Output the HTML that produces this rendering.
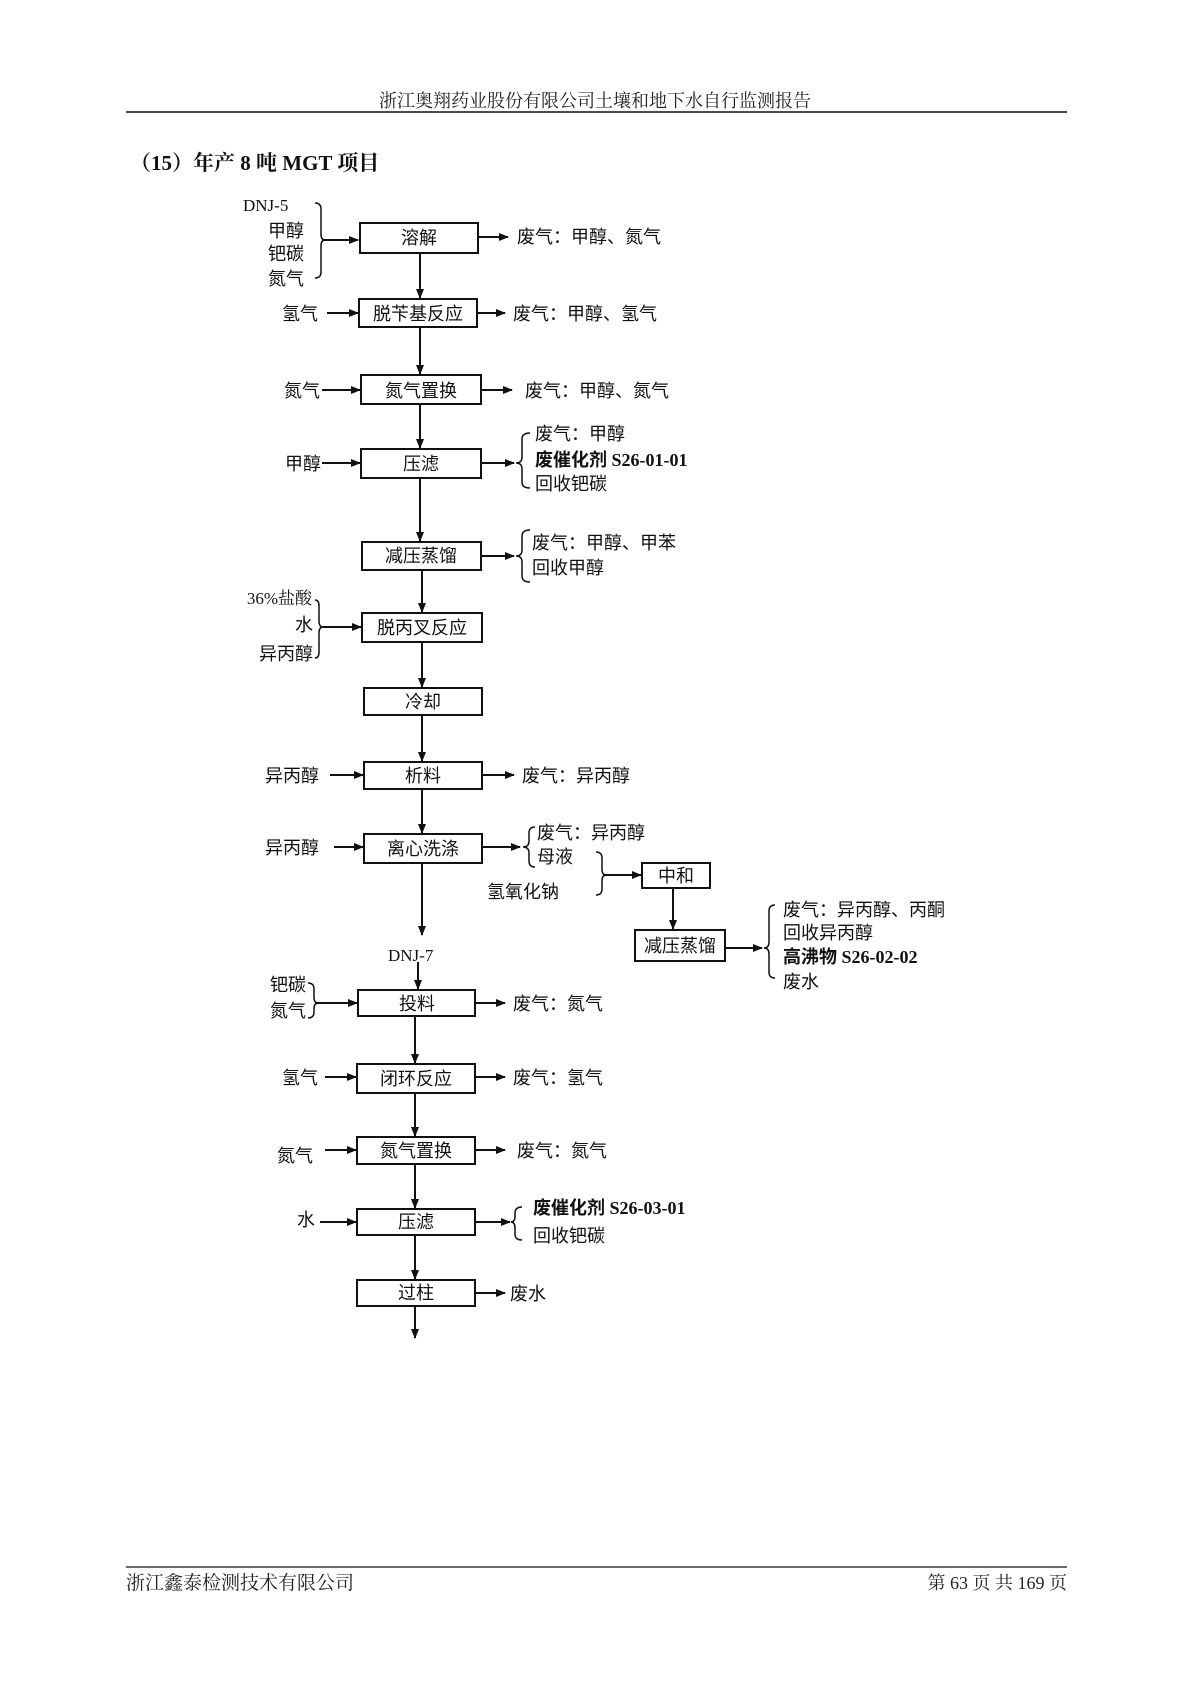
<!DOCTYPE html>
<html><head><meta charset="utf-8"><style>
html,body{margin:0;padding:0;background:#fff;}
body{width:1199px;height:1696px;position:relative;overflow:hidden;}
svg{position:absolute;left:0;top:0;}
.s{font-family:"Liberation Serif","Noto Serif CJK SC",serif;}
.k{font-family:"Liberation Sans","Noto Sans CJK SC",sans-serif;font-size:18px;fill:#111;}
.b{font-family:"Liberation Serif","Noto Sans CJK SC",serif;font-size:18px;font-weight:bold;fill:#111;}
</style></head><body>
<svg width="1199" height="1696" viewBox="0 0 1199 1696">
<defs><marker id="a" markerWidth="10" markerHeight="8" refX="9" refY="4" orient="auto" markerUnits="userSpaceOnUse"><path d="M0,0 L10,4 L0,8 z" fill="#111"/></marker></defs>
<text class="s" x="595" y="107" font-size="18" text-anchor="middle" fill="#222">浙江奥翔药业股份有限公司土壤和地下水自行监测报告</text>
<line x1="126" y1="112" x2="1067" y2="112" stroke="#111" stroke-width="1.5"/>
<text class="s" x="130" y="170" font-size="21" font-weight="bold" fill="#111">（15）年产 8 吨 MGT 项目</text>
<line x1="126" y1="1567" x2="1067" y2="1567" stroke="#111" stroke-width="1.2"/>
<text class="s" x="126" y="1589" font-size="19" fill="#222">浙江鑫泰检测技术有限公司</text>
<text class="s" x="1067" y="1589" font-size="18" text-anchor="end" fill="#222">第 63 页 共 169 页</text>

<g stroke="#111" stroke-width="2" fill="none">
<rect x="360" y="223" width="118" height="30"/>
<rect x="359" y="299" width="118" height="28"/>
<rect x="361" y="375" width="120" height="29"/>
<rect x="361" y="449" width="120" height="29"/>
<rect x="362" y="542" width="119" height="28"/>
<rect x="362" y="613" width="120" height="29"/>
<rect x="364" y="688" width="118" height="27"/>
<rect x="364" y="762" width="118" height="27"/>
<rect x="364" y="834" width="118" height="29"/>
<rect x="642" y="863" width="68" height="25"/>
<rect x="635" y="930" width="90" height="31"/>
<rect x="358" y="990" width="117" height="26"/>
<rect x="357" y="1064" width="118" height="29"/>
<rect x="357" y="1137" width="118" height="27"/>
<rect x="357" y="1209" width="118" height="26"/>
<rect x="357" y="1280" width="118" height="26"/>
</g>
<g stroke="#111" stroke-width="2" marker-end="url(#a)">
<line x1="420" y1="253" x2="420" y2="298"/>
<line x1="420" y1="327" x2="420" y2="374"/>
<line x1="420" y1="404" x2="420" y2="448"/>
<line x1="420" y1="478" x2="420" y2="541"/>
<line x1="422" y1="570" x2="422" y2="612"/>
<line x1="422" y1="642" x2="422" y2="687"/>
<line x1="422" y1="715" x2="422" y2="761"/>
<line x1="422" y1="789" x2="422" y2="833"/>
<line x1="422" y1="863" x2="422" y2="935"/>
<line x1="418" y1="962" x2="418" y2="989"/>
<line x1="415" y1="1016" x2="415" y2="1063"/>
<line x1="415" y1="1093" x2="415" y2="1136"/>
<line x1="415" y1="1164" x2="415" y2="1208"/>
<line x1="415" y1="1235" x2="415" y2="1279"/>
<line x1="415" y1="1306" x2="415" y2="1338"/>
<line x1="673" y1="888" x2="673" y2="929"/>
<line x1="322" y1="240" x2="358" y2="240"/>
<line x1="327" y1="313" x2="358" y2="313"/>
<line x1="322" y1="390" x2="360" y2="390"/>
<line x1="322" y1="463" x2="360" y2="463"/>
<line x1="323" y1="627" x2="361" y2="627"/>
<line x1="330" y1="775" x2="363" y2="775"/>
<line x1="334" y1="847" x2="363" y2="847"/>
<line x1="317" y1="1003" x2="357" y2="1003"/>
<line x1="325" y1="1077" x2="356" y2="1077"/>
<line x1="325" y1="1150" x2="356" y2="1150"/>
<line x1="320" y1="1222" x2="356" y2="1222"/>
<line x1="478" y1="237" x2="508" y2="237"/>
<line x1="477" y1="313" x2="505" y2="313"/>
<line x1="481" y1="390" x2="512" y2="390"/>
<line x1="481" y1="463" x2="514" y2="463"/>
<line x1="481" y1="556" x2="514" y2="556"/>
<line x1="482" y1="775" x2="514" y2="775"/>
<line x1="482" y1="847" x2="520" y2="847"/>
<line x1="605" y1="875" x2="641" y2="875"/>
<line x1="725" y1="948" x2="762" y2="948"/>
<line x1="475" y1="1003" x2="505" y2="1003"/>
<line x1="475" y1="1077" x2="505" y2="1077"/>
<line x1="475" y1="1150" x2="505" y2="1150"/>
<line x1="475" y1="1222" x2="510" y2="1222"/>
<line x1="475" y1="1293" x2="505" y2="1293"/>
</g>
<g stroke="#111" stroke-width="1.5" fill="none">
<path d="M315,203 Q321,203 321,209 L321,234 Q321,240 325,240 Q321,240 321,246 L321,272 Q321,278 315,278"/>
<path d="M315,600 Q319,600 319,606 L319,621 Q319,627 323,627 Q319,627 319,633 L319,652 Q319,658 315,658"/>
<path d="M530,433 Q522,433 522,439 L522,457 Q522,463 516,463 Q522,463 522,469 L522,482 Q522,488 530,488"/>
<path d="M530,530 Q522,530 522,536 L522,550 Q522,556 516,556 Q522,556 522,562 L522,576 Q522,582 530,582"/>
<path d="M535,827 Q529,827 529,833 L529,841 Q529,847 523,847 Q529,847 529,853 L529,861 Q529,867 535,867"/>
<path d="M596,852 Q602,852 602,858 L602,869 Q602,875 606,875 Q602,875 602,881 L602,889 Q602,895 596,895"/>
<path d="M775,905 Q769,905 769,911 L769,942 Q769,948 764,948 Q769,948 769,954 L769,972 Q769,978 775,978"/>
<path d="M308,983 Q314,983 314,989 L314,997 Q314,1003 318,1003 Q314,1003 314,1009 L314,1012 Q314,1018 308,1018"/>
<path d="M522,1207 Q515,1207 515,1213 L515,1216 Q515,1222 511,1222 Q515,1222 515,1228 L515,1234 Q515,1240 522,1240"/>
</g>
<g class="k">
<text class="s" x="243" y="211" font-size="17">DNJ-5</text>
<text x="268" y="237">甲醇</text>
<text x="268" y="260">钯碳</text>
<text x="268" y="285">氮气</text>
<text x="419" y="244" text-anchor="middle">溶解</text>
<text x="517" y="243">废气：甲醇、氮气</text>
<text x="282" y="320">氢气</text>
<text x="418" y="320" text-anchor="middle">脱苄基反应</text>
<text x="513" y="320">废气：甲醇、氢气</text>
<text x="284" y="397">氮气</text>
<text x="421" y="397" text-anchor="middle">氮气置换</text>
<text x="525" y="397">废气：甲醇、氮气</text>
<text x="285" y="470">甲醇</text>
<text x="421" y="470" text-anchor="middle">压滤</text>
<text x="535" y="440">废气：甲醇</text>
<text class="b" x="535" y="466">废催化剂 S26-01-01</text>
<text x="535" y="490">回收钯碳</text>
<text x="421" y="562" text-anchor="middle">减压蒸馏</text>
<text x="532" y="549">废气：甲醇、甲苯</text>
<text x="532" y="574">回收甲醇</text>
<text class="s" x="312" y="604" font-size="17" text-anchor="end">36%盐酸</text>
<text x="313" y="631" text-anchor="end">水</text>
<text x="313" y="660" text-anchor="end">异丙醇</text>
<text x="422" y="634" text-anchor="middle">脱丙叉反应</text>
<text x="423" y="708" text-anchor="middle">冷却</text>
<text x="265" y="782">异丙醇</text>
<text x="423" y="782" text-anchor="middle">析料</text>
<text x="522" y="782">废气：异丙醇</text>
<text x="265" y="854">异丙醇</text>
<text x="423" y="855" text-anchor="middle">离心洗涤</text>
<text x="537" y="839">废气：异丙醇</text>
<text x="537" y="863">母液</text>
<text x="487" y="898">氢氧化钠</text>
<text x="676" y="882" text-anchor="middle">中和</text>
<text x="680" y="952" text-anchor="middle">减压蒸馏</text>
<text x="783" y="916">废气：异丙醇、丙酮</text>
<text x="783" y="939">回收异丙醇</text>
<text class="b" x="783" y="963">高沸物 S26-02-02</text>
<text x="783" y="988">废水</text>
<text class="s" x="388" y="961" font-size="17">DNJ-7</text>
<text x="270" y="991">钯碳</text>
<text x="270" y="1017">氮气</text>
<text x="417" y="1010" text-anchor="middle">投料</text>
<text x="513" y="1010">废气：氮气</text>
<text x="282" y="1084">氢气</text>
<text x="416" y="1085" text-anchor="middle">闭环反应</text>
<text x="513" y="1084">废气：氢气</text>
<text x="277" y="1162">氮气</text>
<text x="416" y="1157" text-anchor="middle">氮气置换</text>
<text x="517" y="1157">废气：氮气</text>
<text x="297" y="1226">水</text>
<text x="416" y="1228" text-anchor="middle">压滤</text>
<text class="b" x="533" y="1214">废催化剂 S26-03-01</text>
<text x="533" y="1242">回收钯碳</text>
<text x="416" y="1299" text-anchor="middle">过柱</text>
<text x="510" y="1300">废水</text>
</g>
</svg>
</body></html>
